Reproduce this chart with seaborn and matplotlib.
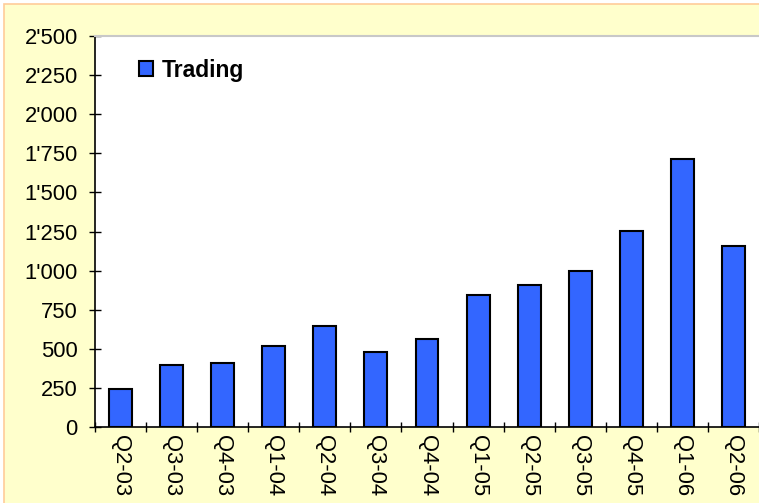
import numpy as np
import pandas as pd
import matplotlib
matplotlib.use("Agg")
import matplotlib.pyplot as plt
from matplotlib.patches import Rectangle
from matplotlib.ticker import FuncFormatter
import seaborn as sns

quarters = ['Q2-03', 'Q3-03', 'Q4-03', 'Q1-04', 'Q2-04', 'Q3-04', 'Q4-04',
            'Q1-05', 'Q2-05', 'Q3-05', 'Q4-05', 'Q1-06', 'Q2-06']
trading = [243, 398, 411, 520, 643, 477, 565, 841, 908, 997, 1253, 1715, 1155]
series_name = 'Trading'
y_ticks = list(range(0, 2501, 250))

sns.set_style("white")
plt.rcParams['font.family'] = ['Liberation Sans', 'DejaVu Sans']
plt.rcParams['text.color'] = 'black'
plt.rcParams['xtick.color'] = 'black'
plt.rcParams['ytick.color'] = 'black'

df = pd.DataFrame({'Quarter': quarters, 'Value': trading})

fig = plt.figure(figsize=(7.59, 5.03), dpi=100, facecolor='white')
# yellow chart area with a thin orange frame
fig.patches.append(Rectangle((4 / 759, -0.05), 1.1, (503 - 3.5) / 503 + 0.05,
                             transform=fig.transFigure, facecolor='#FFFFCC',
                             edgecolor='#FFCC99', linewidth=1.2, zorder=-5))

ax = fig.add_axes([95 / 759, (503 - 427) / 503, 664 / 759, 391 / 503])
ax.set_zorder(1)
ax.set_facecolor('white')

sns.barplot(data=df, x='Quarter', y='Value', color='#3366FF', saturation=1,
            edgecolor='black', linewidth=1.5, width=0.45, ax=ax, label=series_name)

ax.set_xlim(-0.5, len(quarters) - 0.5)
ax.set_ylim(0, 2500)
ax.set_yticks(y_ticks)
ax.yaxis.set_major_formatter(FuncFormatter(lambda v, p: f"{int(v):,}".replace(',', "'")))
ax.set_xlabel('')
ax.set_ylabel('')

ax.tick_params(axis='y', which='major', direction='inout', length=9, width=1,
               color='black', labelcolor='black', labelsize=15.8, pad=8, left=True)
ax.tick_params(axis='x', which='major', length=0, labelsize=15.8, labelcolor='black',
               pad=6, bottom=True)
ax.set_xticks(range(len(quarters)))
ax.set_xticklabels(quarters, rotation=270, va='top', ha='center')
ax.set_xticks(np.arange(-0.5, len(quarters), 1), minor=True)
ax.tick_params(axis='x', which='minor', direction='inout', length=7, width=1,
               color='black', bottom=True)

for side in ['left', 'bottom']:
    ax.spines[side].set_color('black')
    ax.spines[side].set_linewidth(1.2)
ax.spines['top'].set_color('#C8C8C8')
ax.spines['top'].set_linewidth(1.5)
ax.spines['right'].set_visible(False)

leg = ax.legend(loc='upper left', bbox_to_anchor=(0.035, 0.995), frameon=False,
                handlelength=0.6, handleheight=0.6, handletextpad=0.4,
                prop={'weight': 'bold', 'size': 16.5}, labelcolor='black')

fig.savefig('out.png', dpi=100, facecolor=fig.get_facecolor())
